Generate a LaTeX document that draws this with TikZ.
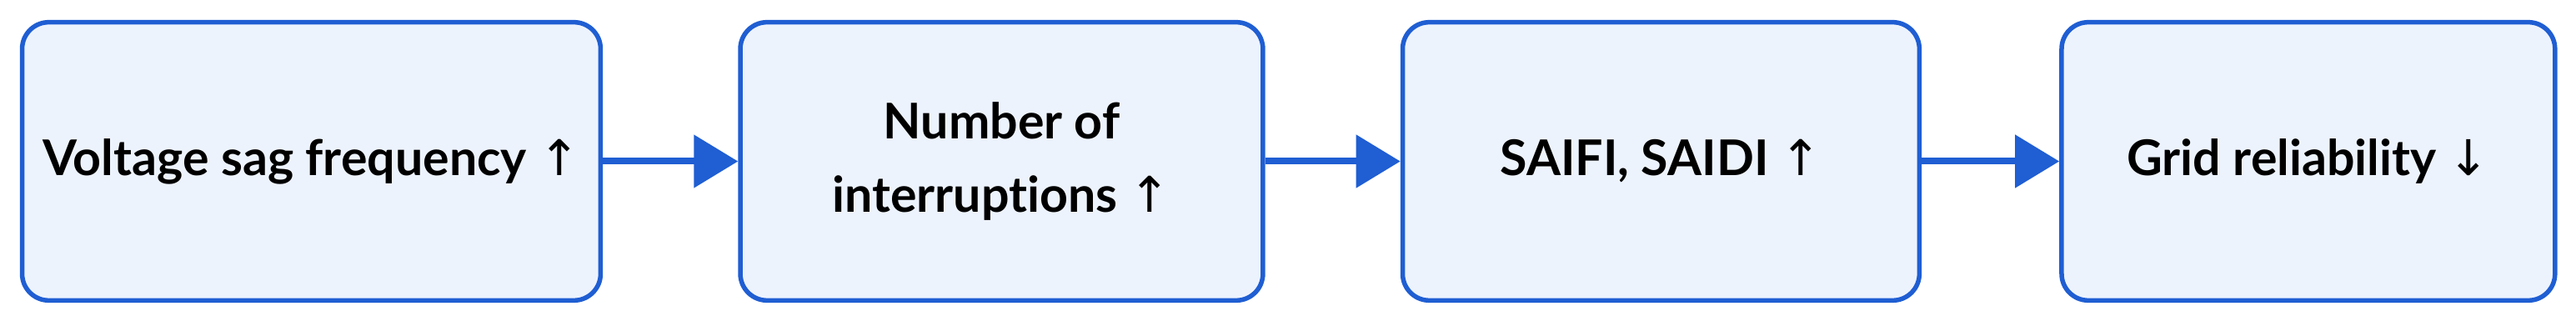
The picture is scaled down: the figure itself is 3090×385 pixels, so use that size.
\documentclass[tikz,border=0pt]{standalone}
\usepackage{fontspec}
\setmainfont{Lato}[Ligatures=NoCommon]
\newfontfamily\arrowfont{DejaVu Sans}
\usetikzlibrary{arrows.meta,positioning}
\definecolor{FlowBlue}{RGB}{31,94,211}
\definecolor{BoxFill}{RGB}{237,243,253}
\newcommand{\uparr}{{\arrowfont\mdseries ↑}}
\newcommand{\downarr}{{\arrowfont\mdseries ↓}}

\begin{document}
\begin{tikzpicture}[x=0.01cm, y=0.01cm,
		stage/.style={draw=FlowBlue, fill=BoxFill, line width=0.055cm, rounded corners=0.32cm,
			minimum height=3.335cm, align=center, font=\fontsize{16.8}{25.3}\selectfont\bfseries},
		flow/.style={-{Triangle[length=0.53cm, width=0.62cm]}, draw=FlowBlue, fill=FlowBlue, line width=0.08cm},
		node distance=1.62cm]
		\useasboundingbox (0,0) rectangle (3090,385);
		
		% chain of effects
		\node[stage, minimum width=6.935cm] (sag) at (373.5,191.5) {Voltage sag frequency \uparr};
		\node[stage, minimum width=6.265cm, right=of sag] (intr) {Number of\\interruptions \uparr};
		\node[stage, minimum width=6.195cm, right=of intr] (idx) {SAIFI, SAIDI \uparr};
		\node[stage, minimum width=5.915cm, right=1.65cm of idx] (rel) {Grid reliability \downarr};
		
		\draw[flow] (sag) -- (intr);
		\draw[flow] (intr) -- (idx);
		\draw[flow] (idx) -- (rel);
	\end{tikzpicture}
\end{document}
